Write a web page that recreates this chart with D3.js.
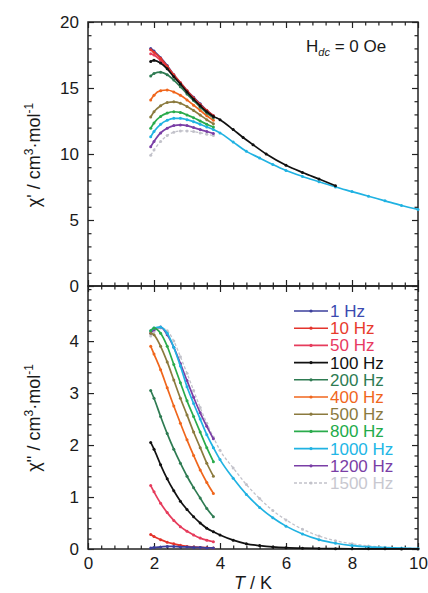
<!DOCTYPE html>
<html><head><meta charset="utf-8">
<script src="https://cdn.jsdelivr.net/npm/d3@7"></script>
<style>
html,body{margin:0;padding:0;background:#fff;}
svg{display:block;font-family:"Liberation Sans",Arial,Helvetica,sans-serif;}
</style></head>
<body>
<svg id="chart" width="428" height="593"></svg>
<script>
// ---------------- DATA ----------------
const freqLabels = ["1 Hz","10 Hz","50 Hz","100 Hz","200 Hz","400 Hz","500 Hz","800 Hz","1000 Hz","1200 Hz","1500 Hz"];
const tLow = [1.9,2.0,2.2,2.4,2.6,2.8,3.0,3.2,3.4,3.6,3.8];
const tExt = [4.0,4.4,4.8,5.2,5.6,6.0,6.5,7.0,7.5,8.0,8.5,9.0,9.5,10.0];
const tExtBlackTop = [4.0,4.4,4.7,5.0,5.4,6.0,6.5,7.0,7.5];

// chi' (top panel), one array per frequency, at tLow
const chiP_1    = [18.0,17.8,17.3,16.7,16.0,15.4,14.8,14.3,13.8,13.3,12.9];
const chiP_10   = [17.9,17.7,17.25,16.65,16.0,15.4,14.8,14.25,13.75,13.3,12.9];
const chiP_50   = [17.6,17.5,17.1,16.55,15.95,15.35,14.75,14.2,13.7,13.25,12.85];
const chiP_100  = [17.0,17.1,16.9,16.45,15.85,15.3,14.7,14.15,13.65,13.2,12.85];
const chiP_200  = [15.9,16.1,16.2,16.0,15.6,15.1,14.55,14.05,13.55,13.1,12.75];
const chiP_400  = [14.1,14.45,14.8,14.85,14.7,14.45,14.1,13.7,13.3,12.9,12.55];
const chiP_500  = [12.8,13.2,13.65,13.9,13.95,13.85,13.6,13.3,12.95,12.6,12.3];
const chiP_800  = [11.95,12.35,12.85,13.1,13.2,13.15,12.95,12.75,12.5,12.25,12.05];
const chiP_1000 = [11.3,11.7,12.25,12.55,12.7,12.7,12.6,12.45,12.25,12.05,11.85];
const chiP_1200 = [10.55,10.95,11.6,11.95,12.15,12.2,12.15,12.0,11.85,11.7,11.55];
const chiP_1500 = [9.9,10.3,10.95,11.4,11.65,11.75,11.75,11.7,11.6,11.5,11.4];
// extensions above 3.8 K
const chiP_100_ext  = [12.6,11.85,11.25,10.7,10.0,9.15,8.6,8.1,7.6];          // at tExtBlackTop
const chiP_1000_ext = [11.6,10.9,10.2,9.7,9.2,8.75,8.3,7.9,7.5,7.15,6.8,6.45,6.1,5.8]; // at tExt

// chi'' (bottom panel), at tLow
const chiPP_1    = [0.02,0.03,0.04,0.05,0.05,0.04,0.04,0.03,0.03,0.02,0.02];
const chiPP_10   = [0.28,0.24,0.18,0.13,0.10,0.07,0.05,0.04,0.03,0.025,0.02];
const chiPP_50   = [1.22,1.10,0.88,0.70,0.55,0.43,0.34,0.27,0.21,0.17,0.14];
const chiPP_100  = [2.05,1.92,1.62,1.35,1.12,0.92,0.76,0.62,0.50,0.40,0.33];
const chiPP_200  = [3.05,2.90,2.55,2.22,1.92,1.65,1.40,1.18,0.98,0.78,0.62];
const chiPP_400  = [3.90,3.75,3.45,3.10,2.75,2.42,2.10,1.80,1.52,1.28,1.07];
const chiPP_500  = [4.15,4.12,3.90,3.60,3.25,2.90,2.58,2.25,1.95,1.65,1.40];
const chiPP_800  = [4.20,4.25,4.15,3.90,3.55,3.20,2.85,2.55,2.25,1.95,1.68];
const chiPP_1000 = [4.20,4.25,4.27,4.15,3.88,3.52,3.12,2.80,2.50,2.20,1.95];
const chiPP_1200 = [4.15,4.22,4.27,4.12,3.88,3.57,3.24,2.92,2.62,2.36,2.12];
const chiPP_1500 = [4.10,4.18,4.25,4.20,4.00,3.70,3.38,3.05,2.72,2.42,2.15];
const chiPP_100_ext  = [0.27,0.17,0.10,0.065,0.04,0.025,0.015,0.01,0.007,0.005,0.004,0.003,0.002,0.002];
const chiPP_1000_ext = [1.72,1.36,1.05,0.80,0.60,0.44,0.29,0.18,0.11,0.065,0.04,0.025,0.015,0.01];
const chiPP_1500_ext = [1.90,1.56,1.24,0.97,0.74,0.56,0.38,0.25,0.16,0.10,0.06,0.035,0.02,0.012];

const xTicks = [0,2,4,6,8,10];
const yTicksTop = [0,5,10,15,20];
const yTicksBottom = [0,1,2,3,4];

// ---------------- STYLE ----------------
const colors = ["#3b3f9c","#e4342c","#e63c5c","#111111","#2e7b52","#f0661c","#8b7a3e","#2aab4c","#20b2e2","#7a3ea6","#c2c2ca"];
const textColors = ["#3b4ab0","#e83a2c","#e83a62","#111111","#2e7b52","#f0661c","#8b7a3e","#22ab4a","#22b6e6","#7a3ea6","#c8c8d0"];

const topSeries = [chiP_1,chiP_10,chiP_50,chiP_100,chiP_200,chiP_400,chiP_500,chiP_800,chiP_1000,chiP_1200,chiP_1500];
const botSeries = [chiPP_1,chiPP_10,chiPP_50,chiPP_100,chiPP_200,chiPP_400,chiPP_500,chiPP_800,chiPP_1000,chiPP_1200,chiPP_1500];

const svg = d3.select("#chart");
const L = 88, R = 418, T1 = 22, M = 286, B = 549;

const x = d3.scaleLinear().domain([0,10]).range([L,R]);
const yTop = d3.scaleLinear().domain([0,20]).range([M,T1]);
const yBot = d3.scaleLinear().domain([0,5.06]).range([B,M]);

function zip(ts, vs){ return ts.map((t,i)=>[t,vs[i]]); }

function drawAxes(y, yMajor, yMinorStep, showX){
  const yMax = y.domain()[1];
  const yMinor = d3.range(0, yMax+1e-9, yMinorStep).filter(v=>!yMajor.some(m=>Math.abs(m-v)<1e-6));
  const xMinor = d3.range(0,10.0001,0.4).filter(v=>!xTicks.some(m=>Math.abs(m-v)<1e-6));
  const g = svg.append("g");
  const style = sel => { sel.select(".domain").remove(); sel.selectAll("line").attr("stroke","#222").attr("stroke-width",1.2); sel.selectAll("text").attr("fill","#1a1a1a").style("font-size","17px").style("font-family","'Liberation Sans',Arial,sans-serif"); };
  g.append("g").attr("transform",`translate(${L},0)`).call(d3.axisLeft(y).tickValues(yMajor).tickSize(-6).tickPadding(9).tickFormat(d3.format("d"))).call(style);
  g.append("g").attr("transform",`translate(${L},0)`).call(d3.axisLeft(y).tickValues(yMinor).tickSize(-3.5).tickFormat("")).call(style);
  g.append("g").attr("transform",`translate(${R},0)`).call(d3.axisRight(y).tickValues(yMajor).tickSize(-6).tickFormat("")).call(style);
  g.append("g").attr("transform",`translate(${R},0)`).call(d3.axisRight(y).tickValues(yMinor).tickSize(-3.5).tickFormat("")).call(style);
  const y0 = y.range()[0], y1 = y.range()[1];
  g.append("g").attr("transform",`translate(0,${y0})`).call(d3.axisBottom(x).tickValues(xTicks).tickSize(-6).tickPadding(8).tickFormat(showX? d3.format("d") : "")).call(style);
  g.append("g").attr("transform",`translate(0,${y0})`).call(d3.axisBottom(x).tickValues(xMinor).tickSize(-3.5).tickFormat("")).call(style);
  g.append("g").attr("transform",`translate(0,${y1})`).call(d3.axisTop(x).tickValues(xTicks).tickSize(-6).tickFormat("")).call(style);
  g.append("g").attr("transform",`translate(0,${y1})`).call(d3.axisTop(x).tickValues(xMinor).tickSize(-3.5).tickFormat("")).call(style);
  g.append("rect").attr("x",L).attr("y",y1).attr("width",R-L).attr("height",y0-y1)
    .attr("fill","none").attr("stroke","#222").attr("stroke-width",1.5);
}

function drawSeries(y, pts, color, idx){
  const line = d3.line().x(d=>x(d[0])).y(d=>y(d[1])).curve(d3.curveMonotoneX);
  const g = svg.append("g");
  g.append("path").datum(pts).attr("d",line).attr("fill","none")
    .attr("stroke",color).attr("stroke-width", idx===10?1.3:1.7)
    .attr("stroke-dasharray", idx===10?"3,2":null);
  g.selectAll("circle").data(pts).join("circle")
    .attr("cx",d=>x(d[0])).attr("cy",d=>y(d[1])).attr("r",1.5).attr("fill",color);
}

drawAxes(yTop, yTicksTop, 1, false);
drawAxes(yBot, yTicksBottom, 0.2, true);

// draw top series (reverse order so that low-frequency lines are on top)
const topPts = topSeries.map((s,i)=>zip(tLow,s));
topPts[3] = topPts[3].concat(zip(tExtBlackTop, chiP_100_ext));
topPts[8] = topPts[8].concat(zip(tExt, chiP_1000_ext));
[10,9,8,7,6,5,4,0,2,1,3].forEach(i=>drawSeries(yTop, topPts[i], colors[i], i));

const botPts = botSeries.map((s,i)=>zip(tLow,s));
botPts[3] = botPts[3].concat(zip(tExt, chiPP_100_ext));
botPts[8] = botPts[8].concat(zip(tExt, chiPP_1000_ext));
botPts[10] = botPts[10].concat(zip(tExt, chiPP_1500_ext));
[10,9,8,7,6,5,4,3,2,1,0].forEach(i=>drawSeries(yBot, botPts[i], colors[i], i));

// legend
const lg = svg.append("g");
const legY = d3.scaleLinear().domain([0,10]).range([311,483]);
freqLabels.forEach((lab,i)=>{
  const yy = legY(i);
  lg.append("line").attr("x1",294).attr("x2",328).attr("y1",yy).attr("y2",yy)
    .attr("stroke",colors[i]).attr("stroke-width",1.6).attr("stroke-dasharray", i===10?"3,2":null);
  lg.append("circle").attr("cx",311).attr("cy",yy).attr("r",1.6).attr("fill",colors[i]);
  lg.append("text").attr("x",330).attr("y",yy+6).text(lab)
    .attr("fill",textColors[i]).style("font-size","17px");
});

// annotation
const ann = svg.append("text").attr("x",306).attr("y",52).attr("fill","#1a1a1a").style("font-size","17px");
ann.append("tspan").text("H");
ann.append("tspan").attr("dy",4).style("font-size","11px").style("font-style","italic").text("dc");
ann.append("tspan").attr("dy",-4).text(" = 0 Oe");

// axis titles
function yTitle(cx, cy, prime){
  const t = svg.append("text").attr("transform",`translate(${cx},${cy}) rotate(-90)`)
    .attr("text-anchor","middle").attr("fill","#1a1a1a").style("font-size","18px");
  t.append("tspan").text("χ" + prime + " / cm");
  t.append("tspan").attr("dy",-7).style("font-size","12px").text("3");
  t.append("tspan").attr("dy",7).text("·mol");
  t.append("tspan").attr("dy",-7).style("font-size","12px").text("-1");
}
yTitle(40, 155, "'");
yTitle(40, 418, "''");

const xt = svg.append("text").attr("x",x(5)).attr("y",589).attr("text-anchor","middle")
  .attr("fill","#1a1a1a").style("font-size","18px");
xt.append("tspan").style("font-style","italic").text("T");
xt.append("tspan").text(" / K");
</script>
</body></html>
